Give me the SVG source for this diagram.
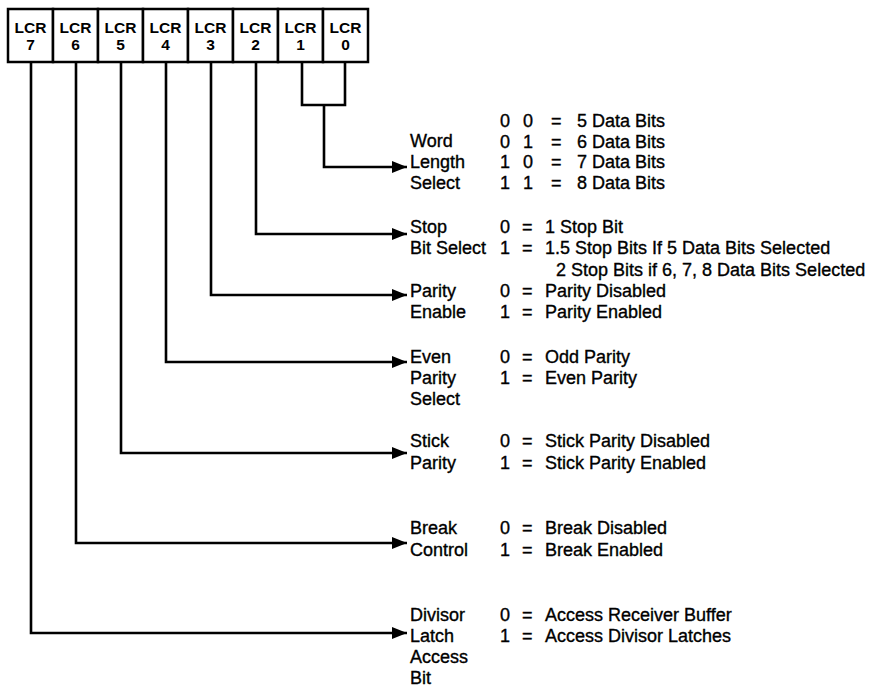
<svg xmlns="http://www.w3.org/2000/svg" width="874" height="687" viewBox="0 0 874 687">
<style>
.box{fill:#fff;stroke:#000;stroke-width:2.5}
.bt{font-family:"Liberation Sans",Arial,sans-serif;font-weight:bold;font-size:15.5px;text-anchor:middle;fill:#000}
.t{font-family:"Liberation Sans",Arial,sans-serif;font-size:18px;fill:#000;stroke:#000;stroke-width:0.35}
.w{fill:none;stroke:#000;stroke-width:2.6;stroke-linejoin:miter}
</style>
<defs>
<marker id="ah" markerUnits="userSpaceOnUse" markerWidth="16" markerHeight="13" refX="15" refY="6.5" orient="auto">
<path d="M0,0.5 L15,6.5 L0,12.5 Z" fill="#000"/>
</marker>
</defs>
<rect width="874" height="687" fill="#fff"/>
<g id="connectors">
<path class="w" d="M31,62 V633 H407" marker-end="url(#ah)"/>
<path class="w" d="M76,62 V543 H407" marker-end="url(#ah)"/>
<path class="w" d="M121,62 V453 H407" marker-end="url(#ah)"/>
<path class="w" d="M166,62 V362 H407" marker-end="url(#ah)"/>
<path class="w" d="M211,62 V295 H407" marker-end="url(#ah)"/>
<path class="w" d="M256,62 V234 H407" marker-end="url(#ah)"/>
<path class="w" d="M302,62 V105 H345 V62"/>
<path class="w" d="M324,105 V167 H407" marker-end="url(#ah)"/>
</g>
<g id="reg">
<g id="lcr7"><rect class="box" x="8" y="9" width="45" height="53"/><text class="bt" x="30.5" y="33">LCR</text><text class="bt" x="30.5" y="50">7</text></g>
<g id="lcr6"><rect class="box" x="53" y="9" width="45" height="53"/><text class="bt" x="75.5" y="33">LCR</text><text class="bt" x="75.5" y="50">6</text></g>
<g id="lcr5"><rect class="box" x="98" y="9" width="45" height="53"/><text class="bt" x="120.5" y="33">LCR</text><text class="bt" x="120.5" y="50">5</text></g>
<g id="lcr4"><rect class="box" x="143" y="9" width="45" height="53"/><text class="bt" x="165.5" y="33">LCR</text><text class="bt" x="165.5" y="50">4</text></g>
<g id="lcr3"><rect class="box" x="188" y="9" width="45" height="53"/><text class="bt" x="210.5" y="33">LCR</text><text class="bt" x="210.5" y="50">3</text></g>
<g id="lcr2"><rect class="box" x="233" y="9" width="45" height="53"/><text class="bt" x="255.5" y="33">LCR</text><text class="bt" x="255.5" y="50">2</text></g>
<g id="lcr1"><rect class="box" x="278" y="9" width="45" height="53"/><text class="bt" x="300.5" y="33">LCR</text><text class="bt" x="300.5" y="50">1</text></g>
<g id="lcr0"><rect class="box" x="323" y="9" width="45" height="53"/><text class="bt" x="345.5" y="33">LCR</text><text class="bt" x="345.5" y="50">0</text></g>
</g>
<g id="wordlength">
<text class="t" x="410" y="147">Word</text>
<text class="t" x="410" y="168">Length</text>
<text class="t" x="410" y="189">Select</text>
<text class="t" x="500" y="127">0</text><text class="t" x="523" y="127">0</text><text class="t" x="551" y="127">=</text><text class="t" x="577" y="127">5 Data Bits</text>
<text class="t" x="500" y="148">0</text><text class="t" x="523" y="148">1</text><text class="t" x="551" y="148">=</text><text class="t" x="577" y="148">6 Data Bits</text>
<text class="t" x="500" y="168">1</text><text class="t" x="523" y="168">0</text><text class="t" x="551" y="168">=</text><text class="t" x="577" y="168">7 Data Bits</text>
<text class="t" x="500" y="189">1</text><text class="t" x="523" y="189">1</text><text class="t" x="551" y="189">=</text><text class="t" x="577" y="189">8 Data Bits</text>
</g>
<g id="stopbit">
<text class="t" x="410" y="233">Stop</text>
<text class="t" x="410" y="254">Bit Select</text>
<text class="t" x="500" y="233">0</text><text class="t" x="522" y="233">=</text><text class="t" x="545" y="233">1 Stop Bit</text>
<text class="t" x="500" y="254">1</text><text class="t" x="522" y="254">=</text><text class="t" x="545" y="254">1.5 Stop Bits If 5 Data Bits Selected</text>
<text class="t" x="556" y="276">2 Stop Bits if 6, 7, 8 Data Bits Selected</text>
</g>
<g id="parityenable">
<text class="t" x="410" y="297">Parity</text>
<text class="t" x="410" y="318">Enable</text>
<text class="t" x="500" y="297">0</text><text class="t" x="522" y="297">=</text><text class="t" x="545" y="297">Parity Disabled</text>
<text class="t" x="500" y="318">1</text><text class="t" x="522" y="318">=</text><text class="t" x="545" y="318">Parity Enabled</text>
</g>
<g id="evenparity">
<text class="t" x="410" y="363">Even</text>
<text class="t" x="410" y="384">Parity</text>
<text class="t" x="410" y="405">Select</text>
<text class="t" x="500" y="363">0</text><text class="t" x="522" y="363">=</text><text class="t" x="545" y="363">Odd Parity</text>
<text class="t" x="500" y="384">1</text><text class="t" x="522" y="384">=</text><text class="t" x="545" y="384">Even Parity</text>
</g>
<g id="stickparity">
<text class="t" x="410" y="447">Stick</text>
<text class="t" x="410" y="469">Parity</text>
<text class="t" x="500" y="447">0</text><text class="t" x="522" y="447">=</text><text class="t" x="545" y="447">Stick Parity Disabled</text>
<text class="t" x="500" y="469">1</text><text class="t" x="522" y="469">=</text><text class="t" x="545" y="469">Stick Parity Enabled</text>
</g>
<g id="breakcontrol">
<text class="t" x="410" y="534">Break</text>
<text class="t" x="410" y="556">Control</text>
<text class="t" x="500" y="534">0</text><text class="t" x="522" y="534">=</text><text class="t" x="545" y="534">Break Disabled</text>
<text class="t" x="500" y="556">1</text><text class="t" x="522" y="556">=</text><text class="t" x="545" y="556">Break Enabled</text>
</g>
<g id="divisor">
<text class="t" x="410" y="621">Divisor</text>
<text class="t" x="410" y="642">Latch</text>
<text class="t" x="410" y="663">Access</text>
<text class="t" x="410" y="684">Bit</text>
<text class="t" x="500" y="621">0</text><text class="t" x="522" y="621">=</text><text class="t" x="545" y="621">Access Receiver Buffer</text>
<text class="t" x="500" y="642">1</text><text class="t" x="522" y="642">=</text><text class="t" x="545" y="642">Access Divisor Latches</text>
</g>
</svg>
